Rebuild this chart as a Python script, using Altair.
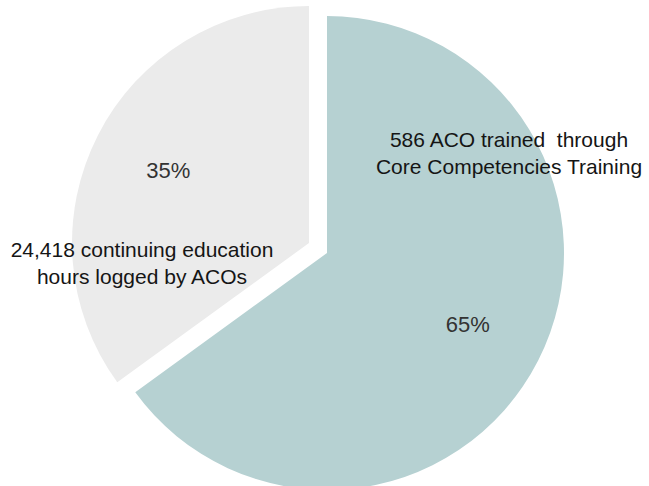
import altair as alt
import pandas as pd

# ---- data ----
categories = ["Core Competencies Training", "Continuing education"]
values = [65, 35]
slice_order = [0, 1]
colors = ["#b6d1d2", "#ebebeb"]
descriptions = [
    "586 ACO trained \u00a0through\nCore Competencies Training",
    "24,418 continuing education\nhours logged by ACOs",
]

df = pd.DataFrame({
    "category": categories,
    "value": values,
    "order": slice_order,
    "color": colors,
    "desc": descriptions,
})

theta_scale = alt.Scale(domain=[0, 100], range=[0, 6.283185307179586])
FONT = "Liberation Sans"

base = (
    alt.Chart(df)
    .transform_window(cum="sum(value)", sort=[alt.SortField("order")], frame=[None, 0])
    .transform_joinaggregate(total="sum(value)")
    .transform_calculate(
        start="100 * (datum.cum - datum.value) / datum.total",
        end="100 * datum.cum / datum.total",
        mid="100 * (datum.cum - datum.value / 2) / datum.total",
        pct="round(100 * datum.value / datum.total) + '%'",
    )
)


def slice_layers(cat, cx, cy, desc_x, desc_y):
    sub = base.transform_filter(alt.datum.category == cat)
    arc = sub.mark_arc(outerRadius=237, stroke=None).encode(
        x=alt.value(cx),
        y=alt.value(cy),
        theta=alt.Theta("start:Q", scale=theta_scale),
        theta2="end:Q",
        color=alt.Color("color:N", scale=None, legend=None),
    )
    pct = sub.mark_text(radius=158, fontSize=22, color="#333333", font=FONT).encode(
        x=alt.value(cx),
        y=alt.value(cy),
        theta=alt.Theta("mid:Q", scale=theta_scale),
        text="pct:N",
    )
    desc = sub.mark_text(
        fontSize=21, font=FONT, color="#151515", align="center",
        baseline="alphabetic", lineBreak="\n", lineHeight=27,
    ).encode(
        x=alt.value(desc_x),
        y=alt.value(desc_y),
        text="desc:N",
    )
    return [arc, pct, desc]


layers = slice_layers(categories[0], 327, 253, 509, 147) + slice_layers(categories[1], 309, 243, 142, 257)

chart = (
    alt.layer(*layers)
    .properties(width=649, height=486, autosize="none", padding=0, background="white")
    .configure_view(stroke=None)
)

chart.save("out.html", embed_options={"renderer": "svg", "actions": False})
